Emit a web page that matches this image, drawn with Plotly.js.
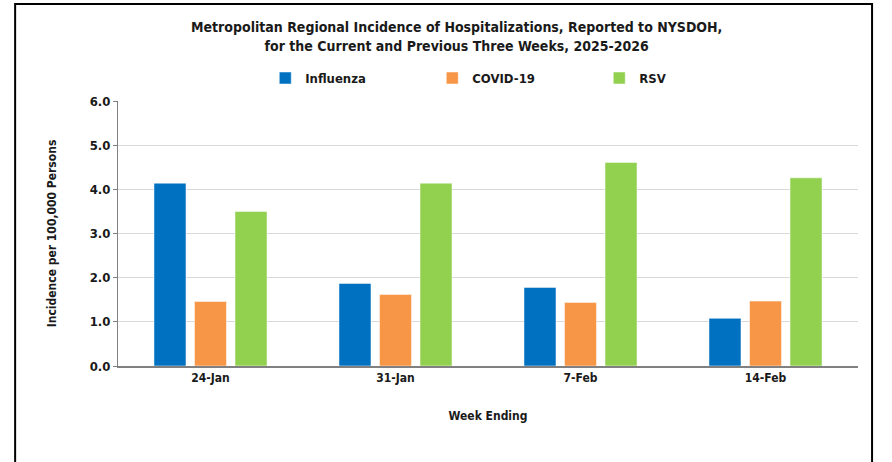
<!DOCTYPE html>
<html>
<head>
<meta charset="utf-8">
<script src="https://cdn.plot.ly/plotly-3.0.1.min.js"></script>
<style>html,body{margin:0;padding:0;background:#fff;}#chart{width:892px;height:462px;}</style>
</head>
<body>
<div id="chart"></div>
<script>
var weeks = ["24-Jan", "31-Jan", "7-Feb", "14-Feb"];
var influenza = [4.14, 1.87, 1.78, 1.08];
var covid = [1.46, 1.62, 1.44, 1.47];
var rsv = [3.50, 4.14, 4.61, 4.26];
var yTicks = [0, 1, 2, 3, 4, 5, 6];
var yTickLabels = ["0.0", "1.0", "2.0", "3.0", "4.0", "5.0", "6.0"];

var FONT = '"DejaVu Sans Condensed", "Liberation Sans", Arial, sans-serif';
function bar(name, y, color) {
  return {type: 'bar', name: name, x: weeks, y: y,
    marker: {color: color, line: {color: 'rgba(255,255,255,0.5)', width: 1}},
    hoverinfo: 'skip'};
}
var data = [
  bar('Influenza', influenza, '#0070C0'),
  bar('COVID-19', covid, '#F79646'),
  bar('RSV', rsv, '#92D050')
];
var layout = {
  width: 892, height: 462,
  margin: {l: 118, r: 34, t: 101, b: 96},
  paper_bgcolor: '#ffffff', plot_bgcolor: '#ffffff',
  font: {family: FONT, color: '#1a1a1a', size: 12, weight: 'bold'},
  title: {text: 'Metropolitan Regional Incidence of Hospitalizations, Reported to NYSDOH,<br>for the Current and Previous Three Weeks, 2025-2026',
    font: {family: FONT, size: 14, color: '#1a1a1a', weight: 'bold'},
    x: 0.512, xanchor: 'center', y: 0.93, yanchor: 'top'},
  barmode: 'group', bargap: 0.343, bargroupgap: 0.21,
  showlegend: true,
  legend: {orientation: 'h', x: 0.199, xanchor: 'left', y: 1.03, yanchor: 'bottom',
    entrywidth: 122, entrywidthmode: 'pixels', itemwidth: 30,
    font: {family: FONT, size: 13, color: '#1a1a1a', weight: 'bold'}},
  xaxis: {type: 'category', showgrid: false, showline: true, linecolor: '#808080', linewidth: 2,
    ticks: '', tickfont: {family: FONT, size: 12, color: '#1a1a1a', weight: 'bold'},
    title: {text: 'Week Ending', font: {family: FONT, size: 12, color: '#1a1a1a', weight: 'bold'}, standoff: 27}},
  yaxis: {range: [0, 6], tickvals: yTicks, ticktext: yTickLabels, showgrid: true, gridcolor: '#D9D9D9', gridwidth: 1,
    showline: true, linecolor: '#808080', linewidth: 1, ticks: 'outside', ticklen: 4, tickcolor: '#808080',
    zeroline: false, tickfont: {family: FONT, size: 13, color: '#1a1a1a', weight: 'bold'},
    title: {text: 'Incidence per 100,000 Persons', font: {family: FONT, size: 12, color: '#1a1a1a', weight: 'bold'}, standoff: 30}},
  shapes: [{type: 'rect', xref: 'paper', yref: 'paper', x0: -0.139, x1: 1.019, y0: -0.5, y1: 1.366,
    line: {color: '#000000', width: 2}, fillcolor: 'rgba(0,0,0,0)', layer: 'above'}]
};
Plotly.newPlot('chart', data, layout, {staticPlot: true, displayModeBar: false});
</script>
</body>
</html>
